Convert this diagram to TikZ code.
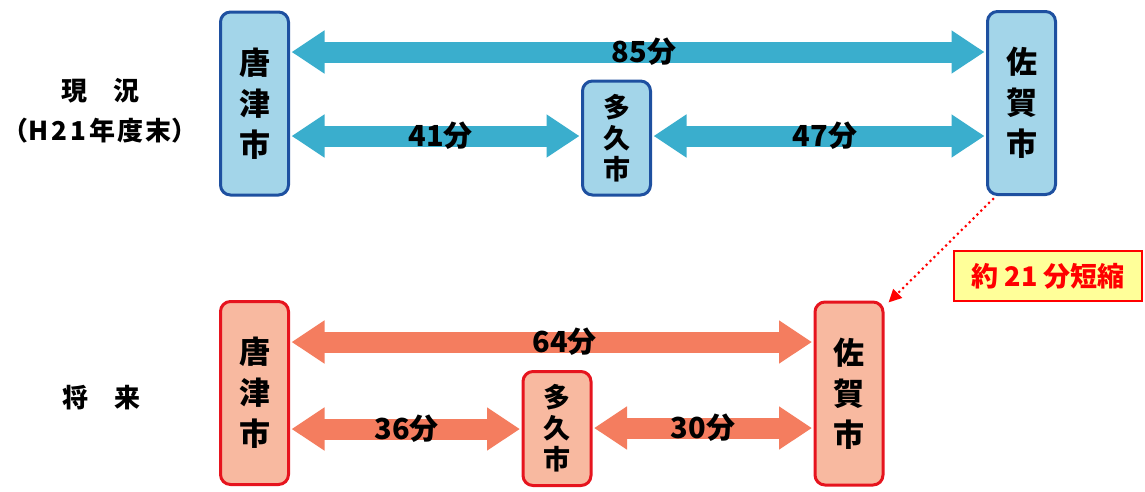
\documentclass[tikz,border=0pt]{standalone}
\usepackage{fontspec}
\usetikzlibrary{arrows.meta,calc}
\setmainfont{Noto Sans CJK JP}
\definecolor{bfill}{RGB}{163,213,233}
\definecolor{bdraw}{RGB}{30,80,160}
\definecolor{barrow}{RGB}{58,174,205}
\definecolor{rfill}{RGB}{248,185,160}
\definecolor{rdraw}{RGB}{230,20,30}
\definecolor{rarrow}{RGB}{244,125,95}
\definecolor{callfill}{RGB}{255,255,153}
\begin{document}
\begin{tikzpicture}[x=1pt,y=-1pt,
  city/.style={rounded corners=10pt, line width=3pt, align=center, inner sep=0pt, minimum width=68pt},
  tcity/.style={city, draw=bdraw, fill=bfill},
  rcity/.style={city, draw=rdraw, fill=rfill},
  tallbox/.style={minimum height=183pt, font=\bfseries\fontsize{31}{41}\selectfont},
  shortbox/.style={minimum height=114pt, font=\bfseries\fontsize{27}{31}\selectfont},
  dbl/.style={line width=21pt, {Triangle[width=41pt,length=33pt]}-{Triangle[width=41pt,length=33pt]}, shorten <=1.5pt, shorten >=1.5pt},
  tarrow/.style={dbl, draw=barrow},
  rarr/.style={dbl, draw=rarrow},
  lbl/.style={font=\bfseries\fontsize{29}{29}\selectfont, inner sep=0pt},
  side/.style={font=\bfseries\fontsize{26}{26}\selectfont, inner sep=0pt}
]
\useasboundingbox (0,0) rectangle (1145,491);
% top row
\node[tcity,tallbox] (k1) at (254.5,103.5) {唐\\津\\市};
\node[tcity,shortbox] (t1) at (616.5,138) {多\\久\\市};
\node[tcity,tallbox] (s1) at (1021.5,103) {佐\\賀\\市};
% bottom row
\node[rcity,tallbox] (k2) at (254.5,393) {唐\\津\\市};
\node[rcity,shortbox] (t2) at (557,428.5) {多\\久\\市};
\node[rcity,tallbox] (s2) at (849,393.5) {佐\\賀\\市};
% arrows top
\draw[tarrow] (k1.east |- 0,52) -- (s1.west |- 0,52) node[lbl, midway, xshift=6pt] {85分};
\draw[tarrow] (k1.east |- 0,136) -- (t1.west |- 0,136) node[lbl, midway, xshift=5pt] {41分};
\draw[tarrow] (t1.east |- 0,136) -- (s1.west |- 0,136) node[lbl, midway, xshift=6pt] {47分};
% arrows bottom
\draw[rarr] (k2.east |- 0,342) -- (s2.west |- 0,342) node[lbl, midway, xshift=13pt] {64分};
\draw[rarr] (k2.east |- 0,429) -- (t2.west |- 0,429) node[lbl, midway, xshift=1pt] {36分};
\draw[rarr] (t2.east |- 0,428) -- (s2.west |- 0,428) node[lbl, midway] {30分};
% side labels
\node[side] (now) at (100,91) {現　況};
\node[side] (h21) at (100,131) {（H\hspace{3pt}2\hspace{3pt}1\hspace{3pt}年\hspace{2pt}度\hspace{2pt}末）};
\node[side] (fut) at (101,398) {将　来};
% callout
\node[draw=red, line width=2pt, fill=callfill, minimum width=188pt, minimum height=50pt, text=red, inner sep=0pt, font=\bfseries\fontsize{27}{27}\selectfont] (cut) at (1048,276) {約 21 分短縮};
\coordinate (ds) at ($(s1.south west)+(7,3)$);
\coordinate (de) at ($(s2.north east)+(4,2)$);
\draw[red, line width=3pt, dash pattern=on 0pt off 5.5pt, line cap=round, -{Triangle[length=13pt,width=12pt]}] (ds) -- (de);
\end{tikzpicture}
\end{document}
